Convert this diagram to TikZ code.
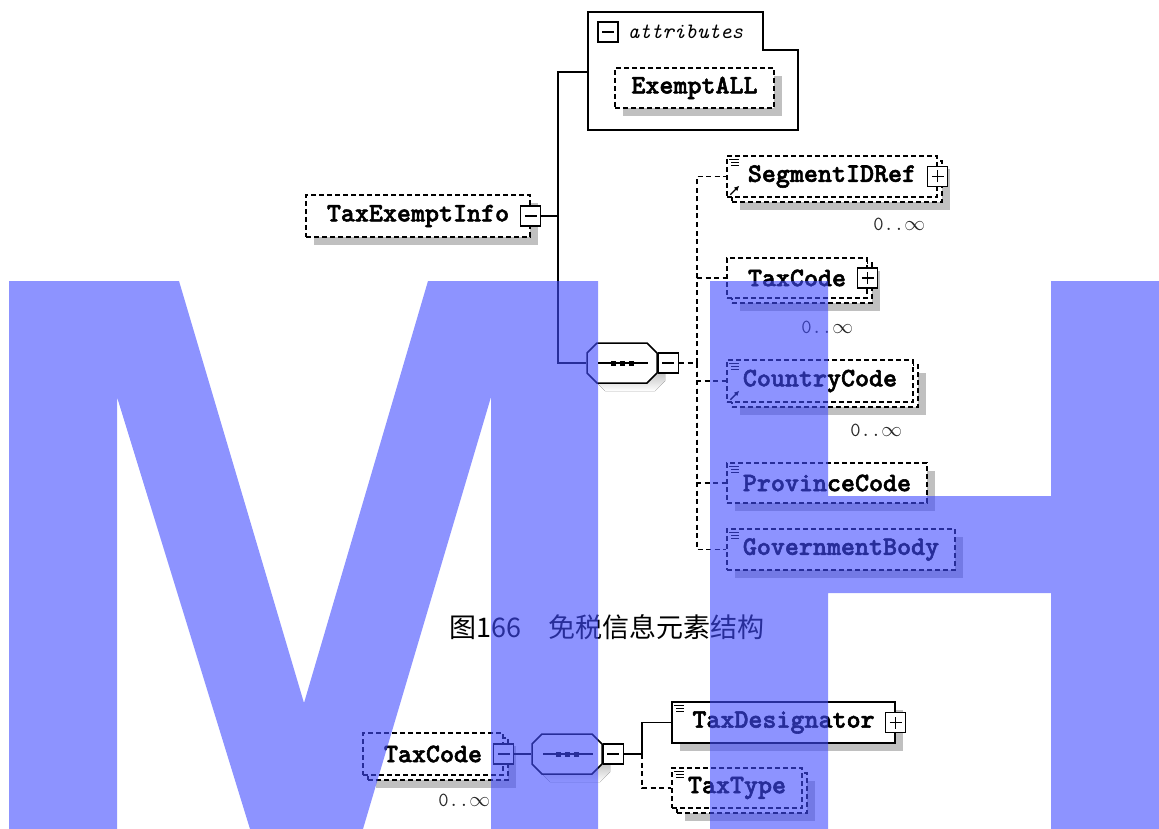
\documentclass[tikz,border=0pt]{standalone}
\usepackage{fontspec}
\newfontfamily\cjk{Noto Sans CJK SC}
\newfontfamily\elfont{lmmonolt10-bold.otf}[FakeBold=2]
\usetikzlibrary{positioning,arrows.meta,shadows}
\definecolor{wmblue}{RGB}{65,75,255}
\definecolor{shade}{RGB}{192,192,192}

\tikzset{
  elbox/.style={draw, dash pattern=on 5pt off 3pt, fill=white, inner sep=0pt,
    minimum height=41pt, font=\elfont\fontsize{26.7pt}{30pt}\selectfont},
  elone/.style={elbox, general shadow={fill=shade, shadow xshift=8pt, shadow yshift=-8pt}},
  elmany/.style={elbox,
    general shadow={fill=shade, shadow xshift=13pt, shadow yshift=-13pt},
    general shadow={fill=white, draw, dash pattern=on 5pt off 3pt, shadow xshift=5pt, shadow yshift=-5pt}},
  pmbox/.style={draw, solid, fill=white, minimum size=20pt, inner sep=0pt, line width=1.3pt},
  minusbox/.style={pmbox, path picture={
      \draw[line width=1.2pt] ([xshift=-6pt]path picture bounding box.center) -- ([xshift=6pt]path picture bounding box.center);}},
  plusbox/.style={pmbox, path picture={
      \draw[line width=1.2pt] ([xshift=-6pt]path picture bounding box.center) -- ([xshift=6pt]path picture bounding box.center)
        ([yshift=-6pt]path picture bounding box.center) -- ([yshift=6pt]path picture bounding box.center);}},
  seqnode/.style={minimum width=70pt, minimum height=40pt, inner sep=0pt},
  conn/.style={dash pattern=on 5pt off 3.5pt},
  occ/.style={font=\ttfamily\fontsize{20pt}{22pt}\selectfont, inner sep=0pt, text=black!85},
  attrtxt/.style={font=\ttfamily\itshape\fontsize{22pt}{24pt}\selectfont, inner sep=0pt}
}

% sequence compositor: name, x, y
\newcommand{\seqshape}[3]{%
  \begin{scope}[shift={(#2,#3)}]
    \fill[shade,shift={(8,8)}] (-25,-20) -- (25,-20) -- (35,-10) -- (35,10) -- (25,20) -- (-25,20) -- (-35,10) -- (-35,-10) -- cycle;
    \draw[fill=white] (-25,-20) -- (25,-20) -- (35,-10) -- (35,10) -- (25,20) -- (-25,20) -- (-35,10) -- (-35,-10) -- cycle;
    \draw (-24,0) -- (26,0);
    \foreach \d in {-9,0,9} \fill (\d-2.5,-2.5) rectangle (\d+2.5,2.5);
    \node[seqnode] (#1) at (0,0) {};
  \end{scope}}
% small icons
\newcommand{\lineicon}[1]{%
  \draw[line width=0.9pt] ([shift={(3,4)}]#1.north west) -- ++(10,0)
    ([shift={(5,7)}]#1.north west) -- ++(8,0) ([shift={(5,10)}]#1.north west) -- ++(8,0);}
\newcommand{\refarrow}[1]{%
  \draw[line width=1.4pt,-{Latex[length=5pt,width=5pt]}] ([shift={(4,-3)}]#1.south west) -- ++(9,-9);}

\begin{document}
\begin{tikzpicture}[x=1pt,y=-1pt,line width=1.5pt]
  \useasboundingbox (0,0) rectangle (1159,829);

  % attributes group
  \draw[line width=1.8pt] (588,12) -- (763,12) -- (763,50) -- (798,50) -- (798,130) -- (588,130) -- cycle;
  \node[minusbox] (attrM) at (608,32) {};
  \node[attrtxt, anchor=west] (attrT) at (627,32) {attributes};
  \node[elone, minimum width=159pt, minimum height=40pt] (exempt) at (694.5,88) {ExemptALL};
  \coordinate (attrL) at (588,72);

  % root element
  \node[elone, minimum width=224pt, minimum height=42pt] (tei) at (418,216) {TaxExemptInfo};
  \node[minusbox] (teiM) at (tei.east) {};
  \coordinate (spine) at (558,216);

  \seqshape{seq}{622}{363}
  \node[minusbox, anchor=west] (seqM) at (seq.east) {};
  \coordinate (trk) at (697,363);

  % children
  \node[elmany, minimum width=210pt] (segref) at (832,176.5) {SegmentIDRef};
  \node[plusbox] (segrefP) at (segref.east) {};
  \node[elmany, minimum width=140pt, minimum height=40pt] (taxcode) at (797,278) {TaxCode};
  \node[plusbox] (taxcodeP) at (taxcode.east) {};
  \node[elmany, minimum width=186pt, minimum height=42pt] (ctry) at (820,381) {CountryCode};
  \node[elone, minimum width=200pt, minimum height=40pt] (prov) at (827,483) {ProvinceCode};
  \node[elone, minimum width=228pt] (govt) at (841,549.5) {GovernmentBody};
  \lineicon{segref} \refarrow{segref}
  \lineicon{ctry} \refarrow{ctry}
  \lineicon{prov}
  \lineicon{govt}

  \node[occ, anchor=east] (segrefO) at ([shift={(-12,27)}]segref.south east) {0..$\infty$};
  \node[occ, anchor=east] (taxcodeO) at ([shift={(-14,29)}]taxcode.south east) {0..$\infty$};
  \node[occ, anchor=east] (ctryO) at ([shift={(-11,28)}]ctry.south east) {0..$\infty$};

  \draw (teiM.east) -- (spine);
  \draw (attrL) -| (spine) |- (seq.west);
  \draw[conn] (seqM.east) -- (trk);
  \foreach \c in {segref,taxcode,ctry,prov,govt}
    \draw[conn] (trk) |- (\c.west);

  % caption
  \node[font=\cjk\fontsize{27pt}{30pt}\selectfont] (cap) at (607,627) {图166　免税信息元素结构};

  % TaxCode structure
  \node[elmany, minimum width=140pt, minimum height=42pt] (tc2) at (433,754) {TaxCode};
  \node[minusbox] (tc2M) at (tc2.east) {};
  \node[occ, anchor=east] (tc2O) at ([shift={(-13,25)}]tc2.south east) {0..$\infty$};
  \seqshape{seqb}{567}{754}
  \node[minusbox, anchor=west] (seqbM) at (seqb.east) {};
  \coordinate (trk2) at (642,754);
  \node[elone, solid, minimum width=223pt] (tdes) at (783.5,722.5) {TaxDesignator};
  \node[plusbox] (tdesP) at (tdes.east) {};
  \node[elmany, minimum width=130pt, minimum height=40pt] (ttype) at (737,788) {TaxType};
  \lineicon{tdes}
  \lineicon{ttype}

  \draw (tc2M.east) -- (seqb.west);
  \draw (seqbM.east) -- (trk2) |- (tdes.west);
  \draw[conn] (trk2) |- (ttype.west);

  % watermark
  \fill[wmblue, fill opacity=0.6]
    (9,281) -- (179,281) -- (304,703) -- (428,281) -- (598,281) -- (598,829) -- (491,829) -- (491,397)
      -- (363,829) -- (250,829) -- (117,397) -- (117,829) -- (9,829) -- cycle
    (710,281) -- (828,281) -- (828,496) -- (1051,496) -- (1051,281) -- (1159,281) -- (1159,829)
      -- (1051,829) -- (1051,593) -- (828,593) -- (828,829) -- (710,829) -- cycle;
\end{tikzpicture}
\end{document}
